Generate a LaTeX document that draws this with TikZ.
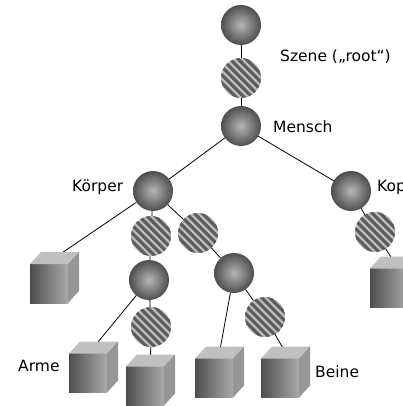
\documentclass[tikz,border=0pt]{standalone}
\usepackage{fontspec}
\setmainfont{DejaVu Sans}
\usepackage{tikz}
\usetikzlibrary{backgrounds,calc}

\definecolor{kugelhell}{RGB}{182,182,182}
\definecolor{kugeldunkel}{RGB}{78,78,78}
\definecolor{streifhell}{RGB}{185,185,185}
\definecolor{streifdunkel}{RGB}{90,90,90}
\definecolor{wuerfeloben}{RGB}{192,192,192}
\definecolor{wuerfelseite}{RGB}{150,150,150}
\definecolor{wuerfellinks}{RGB}{78,78,78}
\definecolor{wuerfelrechts}{RGB}{170,170,170}

\begin{document}
\begin{tikzpicture}[x=1pt, y=-1pt,
    kugel/.style={circle, minimum size=40pt, inner sep=0pt, outer sep=0pt,
        shading=radial, inner color=kugelhell, outer color=kugeldunkel},
    streifen/.style={circle, minimum size=40pt, inner sep=0pt, outer sep=0pt,
        fill=streifhell, path picture={
            \foreach \d in {-48,-40,...,48}
                \draw[streifdunkel, line width=2.9pt]
                    ([xshift=\d pt]path picture bounding box.center) ++(-30,-30) -- ++(60,60);
        }},
    wuerfel/.style={rectangle, minimum width=38pt, minimum height=39pt, inner sep=0pt,
        outer sep=0pt, left color=wuerfellinks, right color=wuerfelrechts},
    linea/.style={black, line width=0.8pt},
    etiqueta/.style={inner sep=0pt, anchor=base west, font=\fontsize{15.5}{18}\selectfont}]

\useasboundingbox (0,0) rectangle (403,406);
\clip (0,0) rectangle (403,406);

% Esferas (nodos de grupo)
\node[kugel] (wurzel) at (241,25) {};
\node[kugel] (mensch) at (241,126) {};
\node[kugel] (koerper) at (153,191) {};
\node[kugel] (kopf) at (351,191) {};
\node[kugel] (arml) at (149,280) {};
\node[kugel] (beinr) at (234,273) {};

% Transformaciones (esferas rayadas)
\node[streifen] (t1) at (241,78) {};
\node[streifen] (t2) at (151,236) {};
\node[streifen] (t3) at (198,233) {};
\node[streifen] (t4) at (375,232) {};
\node[streifen] (t5) at (151,327) {};
\node[streifen] (t6) at (265,317) {};

% Cubos (geometría)
\node[wuerfel] (c1) at (49,283.5) {};
\node[wuerfel] (c2) at (88,373) {};
\node[wuerfel] (c3) at (145,386) {};
\node[wuerfel] (c4) at (214,378) {};
\node[wuerfel] (c5) at (280,378) {};
\node[wuerfel] (c6) at (389,288) {};
\foreach \c in {c1,c2,c3,c4,c5,c6} {
    \fill[wuerfeloben] (\c.north west) -- ++(11,-12) -- ++(38,0) -- (\c.north east) -- cycle;
    \fill[wuerfelseite] (\c.north east) -- ++(11,-12) -- ++(0,39) -- (\c.south east) -- cycle;
    \coordinate (\c t) at ($(\c.north)+(5.5,-6)$);
}

% Etiquetas
\node[etiqueta] (lszene) at (280,62) {Szene („root“)};
\node[etiqueta] (lmensch) at (273,132) {Mensch};
\node[etiqueta] (lkoerper) at (72,191) {Körper};
\node[etiqueta] (lkopf) at (377,191) {Kopf};
\node[etiqueta] (larme) at (18,371) {Arme};
\node[etiqueta] (lbeine) at (315,377) {Beine};

% Aristas del grafo de escena
\begin{scope}[on background layer]
\draw[linea] (wurzel) -- (t1) -- (mensch);
\draw[linea] (mensch) -- (koerper);
\draw[linea] (mensch) -- (kopf);
\draw[linea] (koerper) -- (c1t);
\draw[linea] (koerper) -- (t2) -- (arml);
\draw[linea] (koerper) -- (t3) -- (beinr);
\draw[linea] (arml) -- (c2t);
\draw[linea] (arml) -- (t5) -- (c3t);
\draw[linea] (beinr) -- (c4t);
\draw[linea] (beinr) -- (t6) -- (c5t);
\draw[linea] (kopf) -- (t4) -- (c6t);
\end{scope}

\end{tikzpicture}
\end{document}
